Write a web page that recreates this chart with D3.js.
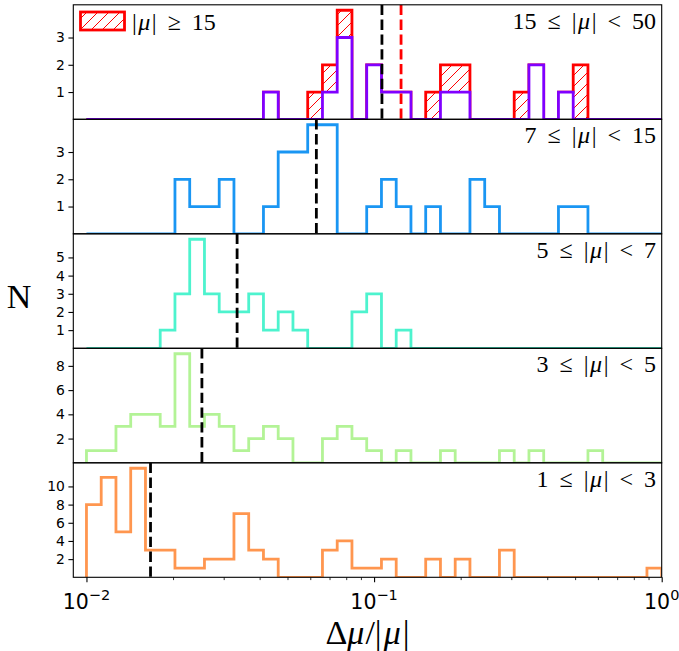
<!DOCTYPE html>
<html><head><meta charset="utf-8">
<script src="https://cdn.jsdelivr.net/npm/d3@7"></script>
<style>body{margin:0;background:#fff}svg{display:block}</style>
</head><body>
<script>
// ---- data ----
const binEdgeExp = [-2, 0];          // log10 range of bins
const nBins = 39;
const panelLabels = ["15", "7", "5", "3", "1"];
const panelUpper = ["50", "15", "7", "5", "3"];
const countsPurple = [0,0,0,0,0,0,0,0,0,0,0,0,1,0,0,0,1,3,0,2,1,1,0,0,1,1,0,0,0,0,2,0,1,0,0,0,0,0,0];
const countsRed    = [0,0,0,0,0,0,0,0,0,0,0,0,1,0,0,1,2,4,0,2,1,1,0,1,2,2,0,0,0,1,2,0,1,2,0,0,0,0,0];
const countsBlue   = [0,0,0,0,0,0,2,1,1,2,0,0,1,3,3,4,4,0,0,1,2,1,0,1,0,0,2,1,0,0,0,0,1,1,0,0,0,0,0];
const countsTeal   = [0,0,0,0,0,1,3,6,3,2,2,3,1,2,1,0,0,0,2,3,0,1,0,0,0,0,0,0,0,0,0,0,0,0,0,0,0,0,0];
const countsGreen  = [1,1,3,4,4,3,9,3,4,3,1,2,3,2,0,0,2,3,2,1,0,1,0,0,1,0,0,0,1,0,1,0,0,0,1,0,0,0,0];
const countsOrange = [8,11,5,12,3,3,1,1,2,2,7,3,2,0,0,0,3,4,1,1,2,0,0,2,0,2,0,0,3,0,0,0,0,0,0,0,0,0,1];
const medians = [0.1065, 0.0630, 0.0334, 0.0252, 0.0167];
const medianRed = 0.1241;
const yTicks = [[1,2,3],[1,2,3],[1,2,3,4,5],[2,4,6,8],[2,4,6,8,10]];
const xTickExp = [-2, -1, 0];
const colors = ["#8000ff", "#1a96f3", "#4df3ce", "#b3f396", "#ff964f"];

const panels = [countsPurple, countsBlue, countsTeal, countsGreen, countsOrange];
const edges = d3.range(nBins + 1).map(i => Math.pow(10, binEdgeExp[0] + (binEdgeExp[1]-binEdgeExp[0]) * i / nBins));

// ---- layout ----
const W = 679, H = 651;
const L = 73.3, R = 661.7, T = 4.8, B = 577.3;
const ph = (B - T) / 5;
const svg = d3.select("body").append("svg").attr("width", W).attr("height", H);
const defs = svg.append("defs");
const pat = defs.append("pattern").attr("id","hatch").attr("patternUnits","userSpaceOnUse")
  .attr("width", 11).attr("height", 11);
pat.append("path").attr("d","M-2,2 L2,-2 M0,11 L11,0 M9,13 L13,9").attr("stroke","#ff0000").attr("stroke-width",1);

const x = d3.scaleLog().domain([0.009, 1]).range([L, R]);
const lw = 2.8;
const serif = "'Liberation Serif', 'Times New Roman', serif";
const sans = "'DejaVu Sans', sans-serif";

function stepPts(counts, y) {
  const pts = [[x(edges[0]), y(0)]];
  counts.forEach((c, i) => { pts.push([x(edges[i]), y(c)]); pts.push([x(edges[i+1]), y(c)]); });
  pts.push([x(edges[nBins]), y(0)]);
  return pts;
}
const line = d3.line();

function mathLabel(g, xp, yp, parts, size, anchor, ws) {
  const t = g.append("text").attr("x", xp).attr("y", yp).attr("text-anchor", anchor)
    .attr("xml:space", "preserve")
    .style("font-family", serif).style("font-size", size + "px").attr("fill", "#000")
    .style("word-spacing", (ws || 0) + "px");
  parts.forEach(p => {
    const s = t.append("tspan").text(p[0]);
    if (p[1]) s.style("font-style", "italic");
    if (p[2]) s.attr("dx", p[2]);
  });
  return t;
}

panels.forEach((counts, p) => {
  const top = T + p * ph, bot = top + ph;
  const ymax = d3.max(p === 0 ? countsRed : counts) * 1.05;
  const y = d3.scaleLinear().domain([0, ymax]).range([bot, top]);
  const g = svg.append("g");
  const cid = "clip" + p;
  defs.append("clipPath").attr("id", cid).append("rect").attr("x", L).attr("y", top).attr("width", R-L).attr("height", ph);
  const gc = g.append("g").attr("clip-path", `url(#${cid})`);

  if (p === 0) {
    const rp = stepPts(countsRed, y);
    gc.append("path").attr("d", line(rp) + "Z").attr("fill", "url(#hatch)")
      .attr("stroke", "#ff0000").attr("stroke-width", lw).attr("stroke-linejoin","miter");
    const pp = stepPts(counts, y);
    gc.append("path").attr("d", line(pp) + "Z").attr("fill", "#fff").attr("stroke", "none");
  }
  gc.append("path").attr("d", line(stepPts(counts, y))).attr("fill", "none")
    .attr("stroke", colors[p]).attr("stroke-width", lw).attr("stroke-linejoin","miter");

  gc.append("line").attr("x1", x(medians[p])).attr("x2", x(medians[p])).attr("y1", top).attr("y2", bot)
    .attr("stroke", "#000").attr("stroke-width", lw).attr("stroke-dasharray", "10.3,4.5");
  if (p === 0) {
    gc.append("line").attr("x1", x(medianRed)).attr("x2", x(medianRed)).attr("y1", top).attr("y2", bot)
      .attr("stroke", "#ff0000").attr("stroke-width", lw).attr("stroke-dasharray", "10.3,4.5");
  }

  // spines
  g.append("rect").attr("x", L).attr("y", top).attr("width", R-L).attr("height", ph)
    .attr("fill", "none").attr("stroke", "#000").attr("stroke-width", 1.1);

  // y axis
  const ya = g.append("g").attr("transform", `translate(${L},0)`)
    .call(d3.axisLeft(y).tickValues(yTicks[p]).tickFormat(d3.format("d")).tickSize(4.9).tickPadding(3.5));
  ya.select(".domain").remove();
  ya.selectAll("line").attr("stroke", "#000").attr("stroke-width", 1.1);
  ya.selectAll("text").style("font-family", sans).style("font-size", "13.9px").attr("fill", "#000");

  // panel label
  mathLabel(g, 656, top + 24,
    [[panelLabels[p] + " \u2264 |"], ["\u03bc", true, 1.5], ["|", false, 1.5], [" < " + panelUpper[p]]], 24, "end", 5);

  if (p === 4) {
    const minor = [];
    [-2, -1].forEach(e => { for (let k = 2; k <= 9; k++) minor.push(k * Math.pow(10, e)); });
    const xm = g.append("g").attr("transform", `translate(0,${bot})`)
      .call(d3.axisBottom(x).tickValues(minor).tickFormat("").tickSize(2.8));
    xm.select(".domain").remove();
    xm.selectAll("line").attr("stroke", "#000").attr("stroke-width", 0.8);
    const majors = xTickExp.map(e => Math.pow(10, e));
    const xM = g.append("g").attr("transform", `translate(0,${bot})`)
      .call(d3.axisBottom(x).tickValues(majors).tickFormat("").tickSize(4.9));
    xM.select(".domain").remove();
    xM.selectAll("line").attr("stroke", "#000").attr("stroke-width", 1.1);
    xTickExp.forEach(e => {
      const t = g.append("text").attr("x", x(Math.pow(10, e))).attr("y", bot + 32)
        .attr("text-anchor", "middle").style("font-family", sans).style("font-size", "20.5px").attr("fill", "#000");
      t.append("tspan").text("10");
      t.append("tspan").attr("dy", -9).style("font-size", "14.5px").text(e === 0 ? "0" : "\u2212" + (-e));
    });
  }
});

// legend
const lg = svg.append("g");
lg.append("rect").attr("x", 80.5).attr("y", 12).attr("width", 44).attr("height", 18)
  .attr("fill", "url(#hatch)").attr("stroke", "#ff0000").attr("stroke-width", lw);
mathLabel(lg, 132, 30, [["|"], ["\u03bc", true, 1.5], ["|", false, 1.5], [" \u2265 15"]], 24, "start", 5);

// axis labels
mathLabel(svg, (L+R)/2, 644, [["\u0394"], ["\u03bc", true], ["/|", false, 1], ["\u03bc", true, 2], ["|", false, 2]], 34, "middle");
mathLabel(svg, 19, 308, [["N"]], 34, "middle");
</script>
</body></html>
